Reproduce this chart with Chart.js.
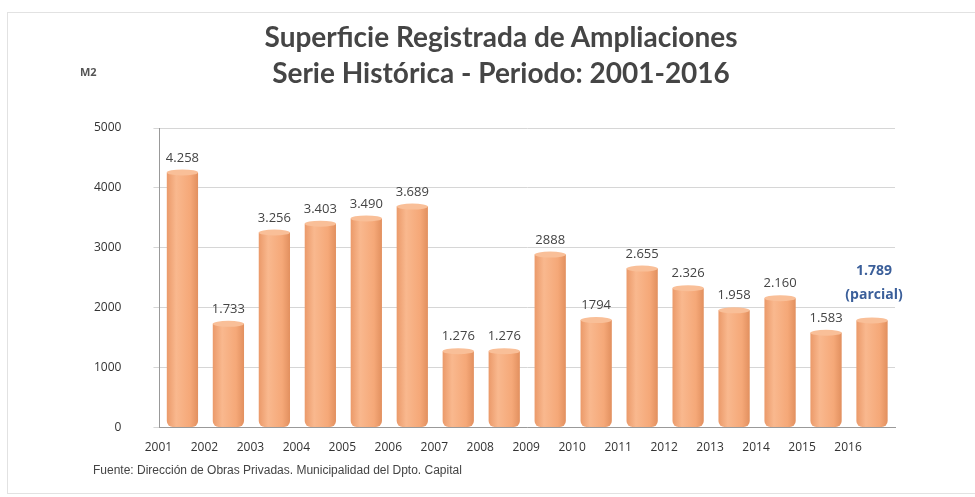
<!DOCTYPE html>
<html>
<head>
<meta charset="utf-8">
<script src="https://cdn.jsdelivr.net/npm/chart.js@4.4.1/dist/chart.umd.min.js"></script>
<style>
  html, body { margin: 0; padding: 0; background: #fff; }
  #wrap { position: relative; width: 975px; height: 497px; }
  #frame { position: absolute; left: 7px; top: 12px; width: 975px; height: 480px; border: 1px solid #e2e2e2; }
  #title { position: absolute; left: 201px; width: 600px; top: 18px; text-align: center; font: bold 28px/36px Lato, sans-serif; color: #454545; }
  #unit { position: absolute; left: 80px; top: 64px; font: bold 11px "Open Sans", sans-serif; color: #555; }
  #source { position: absolute; left: 93px; top: 463px; font: 12px "Liberation Sans", Arial, sans-serif; color: #444; }
  canvas { position: absolute; left: 0; top: 0; }
</style>
</head>
<body>
<div id="wrap">
  <div id="frame"></div>
  <canvas id="chart" width="975" height="497"></canvas>
  <div id="title">Superficie Registrada de Ampliaciones<br>Serie Histórica - Periodo: 2001-2016</div>
  <div id="unit">M2</div>
  <div id="source">Fuente: Dirección de Obras Privadas. Municipalidad del Dpto. Capital</div>
</div>
<script>
// DATA
var years = ['2001','2002','2003','2004','2005','2006','2007','2008','2009','2010','2011','2012','2013','2014','2015','2016'];
var surface = [4258, 1733, 3256, 3403, 3490, 3689, 1276, 1276, 2888, 1794, 2655, 2326, 1958, 2160, 1583, 1789];
var valueLabels = ['4.258','1.733','3.256','3.403','3.490','3.689','1.276','1.276','2888','1794','2.655','2.326','1.958','2.160','1.583','1.789'];
var partialNote = '(parcial)';
var yTicks = [0, 1000, 2000, 3000, 4000, 5000];

const ctx = document.getElementById('chart');

// CYLINDER-LIKE FILL FOR EACH BAR
function barFill(c) {
  var chart = c.chart;
  if (!chart.chartArea || !chart.scales.x) return '#f4a474';
  var x = chart.scales.x.getPixelForValue(c.dataIndex);
  var w = 31;
  var g = chart.ctx.createLinearGradient(x - w / 2, 0, x + w / 2, 0);
  g.addColorStop(0, '#eb9a6a');
  g.addColorStop(0.3, '#f9b88e');
  g.addColorStop(0.75, '#f5a878');
  g.addColorStop(1, '#e2905f');
  return g;
}

// DRAWS VALUE LABELS AND BAR TOP ELLIPSES
const barDecor = {
  id: 'barDecor',
  afterDatasetsDraw(chart) {
    var c = chart.ctx;
    var meta = chart.getDatasetMeta(0);
    meta.data.forEach((bar, i) => {
      var hw = bar.width / 2;
      c.save();
      c.beginPath();
      c.ellipse(bar.x, bar.y, hw, 3, 0, 0, Math.PI * 2);
      c.fillStyle = '#f9bf98';
      c.fill();
      c.restore();

      c.save();
      c.textAlign = 'center';
      c.textBaseline = 'bottom';
      if (i == meta.data.length - 1) {
        c.fillStyle = '#3b5f9a';
        c.font = 'bold 14px "Open Sans", sans-serif';
        c.fillText(valueLabels[i], bar.x + 2, bar.y - 42);
        c.fillText(partialNote, bar.x + 2, bar.y - 18);
      } else {
        c.fillStyle = '#444';
        c.font = '13px "Open Sans", sans-serif';
        c.fillText(valueLabels[i], bar.x, bar.y - 8);
      }
      c.restore();
    });
  }
};

var chart = new Chart(ctx, {
  type: 'bar',
  data: {
    labels: years,
    datasets: [{
      label: 'M2',
      data: surface,
      backgroundColor: barFill,
      borderWidth: 0,
      borderRadius: { topLeft: 0, topRight: 0, bottomLeft: 6, bottomRight: 6 },
      borderSkipped: false,
      categoryPercentage: 0.68,
      barPercentage: 1.0
    }]
  },
  options: {
    responsive: false,
    animation: false,
    layout: { padding: { left: 62, right: 80, top: 128, bottom: 37 } },
    plugins: {
      legend: { display: false },
      tooltip: { enabled: false },
      title: { display: false }
    },
    scales: {
      x: {
        grid: { display: false },
        border: { color: '#999' },
        ticks: {
          color: '#333',
          font: { family: '"Open Sans"', size: 12 },
          labelOffset: -24,
          padding: 5,
          maxRotation: 0,
          autoSkip: false
        }
      },
      y: {
        min: 0,
        max: 5000,
        afterBuildTicks: (axis) => { axis.ticks = yTicks.map(v => ({ value: v })); },
        grid: { color: '#d6d6d6', drawTicks: true, tickLength: 6 },
        border: { color: '#999' },
        ticks: {
          color: '#333',
          font: { family: '"Open Sans"', size: 12 },
          padding: 32,
          callback: (v) => String(v)
        }
      }
    }
  },
  plugins: [barDecor]
});
</script>
</body>
</html>
